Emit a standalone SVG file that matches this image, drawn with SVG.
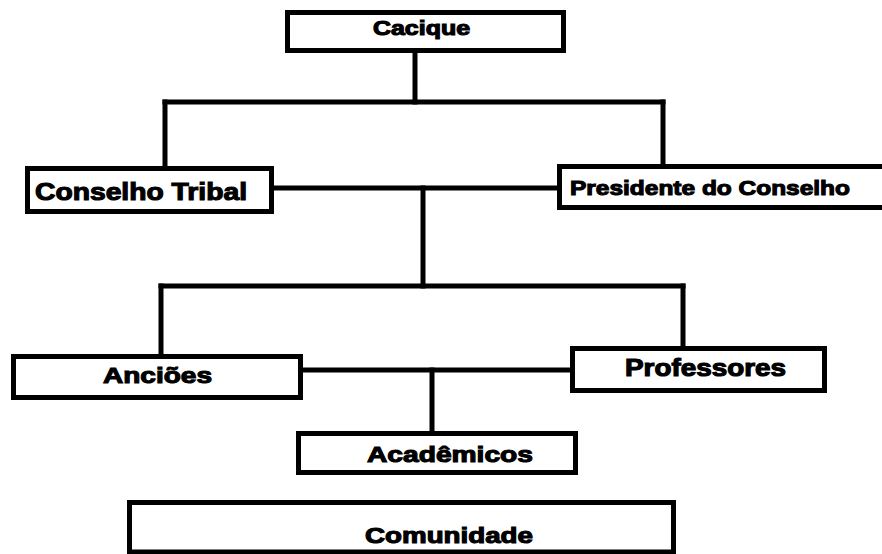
<svg xmlns="http://www.w3.org/2000/svg" width="882" height="554" viewBox="0 0 882 554">
<style>
.box{fill:#fff;stroke:#000;stroke-width:5}
.ln{stroke:#000;stroke-width:5;fill:none;stroke-linecap:square}
.t{font-family:"Liberation Sans",Arial,sans-serif;font-weight:bold;fill:#000;stroke:#000;stroke-width:1.1}
</style>
<rect width="882" height="554" fill="#fff"/>
<g id="connectors">
<line class="ln" x1="415" y1="53" x2="415" y2="102"/>
<line class="ln" x1="165" y1="102" x2="663" y2="102"/>
<line class="ln" x1="165" y1="102" x2="165" y2="166"/>
<line class="ln" x1="663" y1="102" x2="663" y2="164"/>
<line class="ln" x1="274" y1="188" x2="557" y2="188"/>
<line class="ln" x1="423" y1="188" x2="423" y2="286"/>
<line class="ln" x1="161" y1="286" x2="683" y2="286"/>
<line class="ln" x1="161" y1="286" x2="161" y2="354"/>
<line class="ln" x1="683" y1="286" x2="683" y2="346"/>
<line class="ln" x1="303" y1="370" x2="570" y2="370"/>
<line class="ln" x1="432" y1="370" x2="432" y2="431"/>
</g>
<g id="cacique">
<rect class="box" x="287.5" y="12.5" width="276" height="38"/>
<text class="t" x="373" y="35" font-size="19.5" textLength="97" lengthAdjust="spacingAndGlyphs">Cacique</text>
</g>
<g id="conselho-tribal">
<rect class="box" x="27.5" y="168.5" width="244" height="43"/>
<text class="t" x="35" y="200" font-size="24" textLength="212" lengthAdjust="spacingAndGlyphs">Conselho Tribal</text>
</g>
<g id="presidente">
<rect class="box" x="559.5" y="166.5" width="330" height="41"/>
<text class="t" x="570" y="195" font-size="21" textLength="280" lengthAdjust="spacingAndGlyphs">Presidente do Conselho</text>
</g>
<g id="ancioes">
<rect class="box" x="13.5" y="356.5" width="287" height="41"/>
<text class="t" x="103" y="383" font-size="22.5" textLength="109" lengthAdjust="spacingAndGlyphs">Anciões</text>
</g>
<g id="professores">
<rect class="box" x="572.5" y="348.5" width="252" height="42"/>
<text class="t" x="625" y="376" font-size="23.5" textLength="161" lengthAdjust="spacingAndGlyphs">Professores</text>
</g>
<g id="academicos">
<rect class="box" x="298.5" y="433.5" width="277" height="39"/>
<text class="t" x="367" y="462" font-size="22.5" textLength="166" lengthAdjust="spacingAndGlyphs">Acadêmicos</text>
</g>
<g id="comunidade">
<rect class="box" x="129.5" y="502.5" width="544" height="49.5"/>
<text class="t" x="365" y="543" font-size="22.5" textLength="168" lengthAdjust="spacingAndGlyphs">Comunidade</text>
</g>
</svg>
